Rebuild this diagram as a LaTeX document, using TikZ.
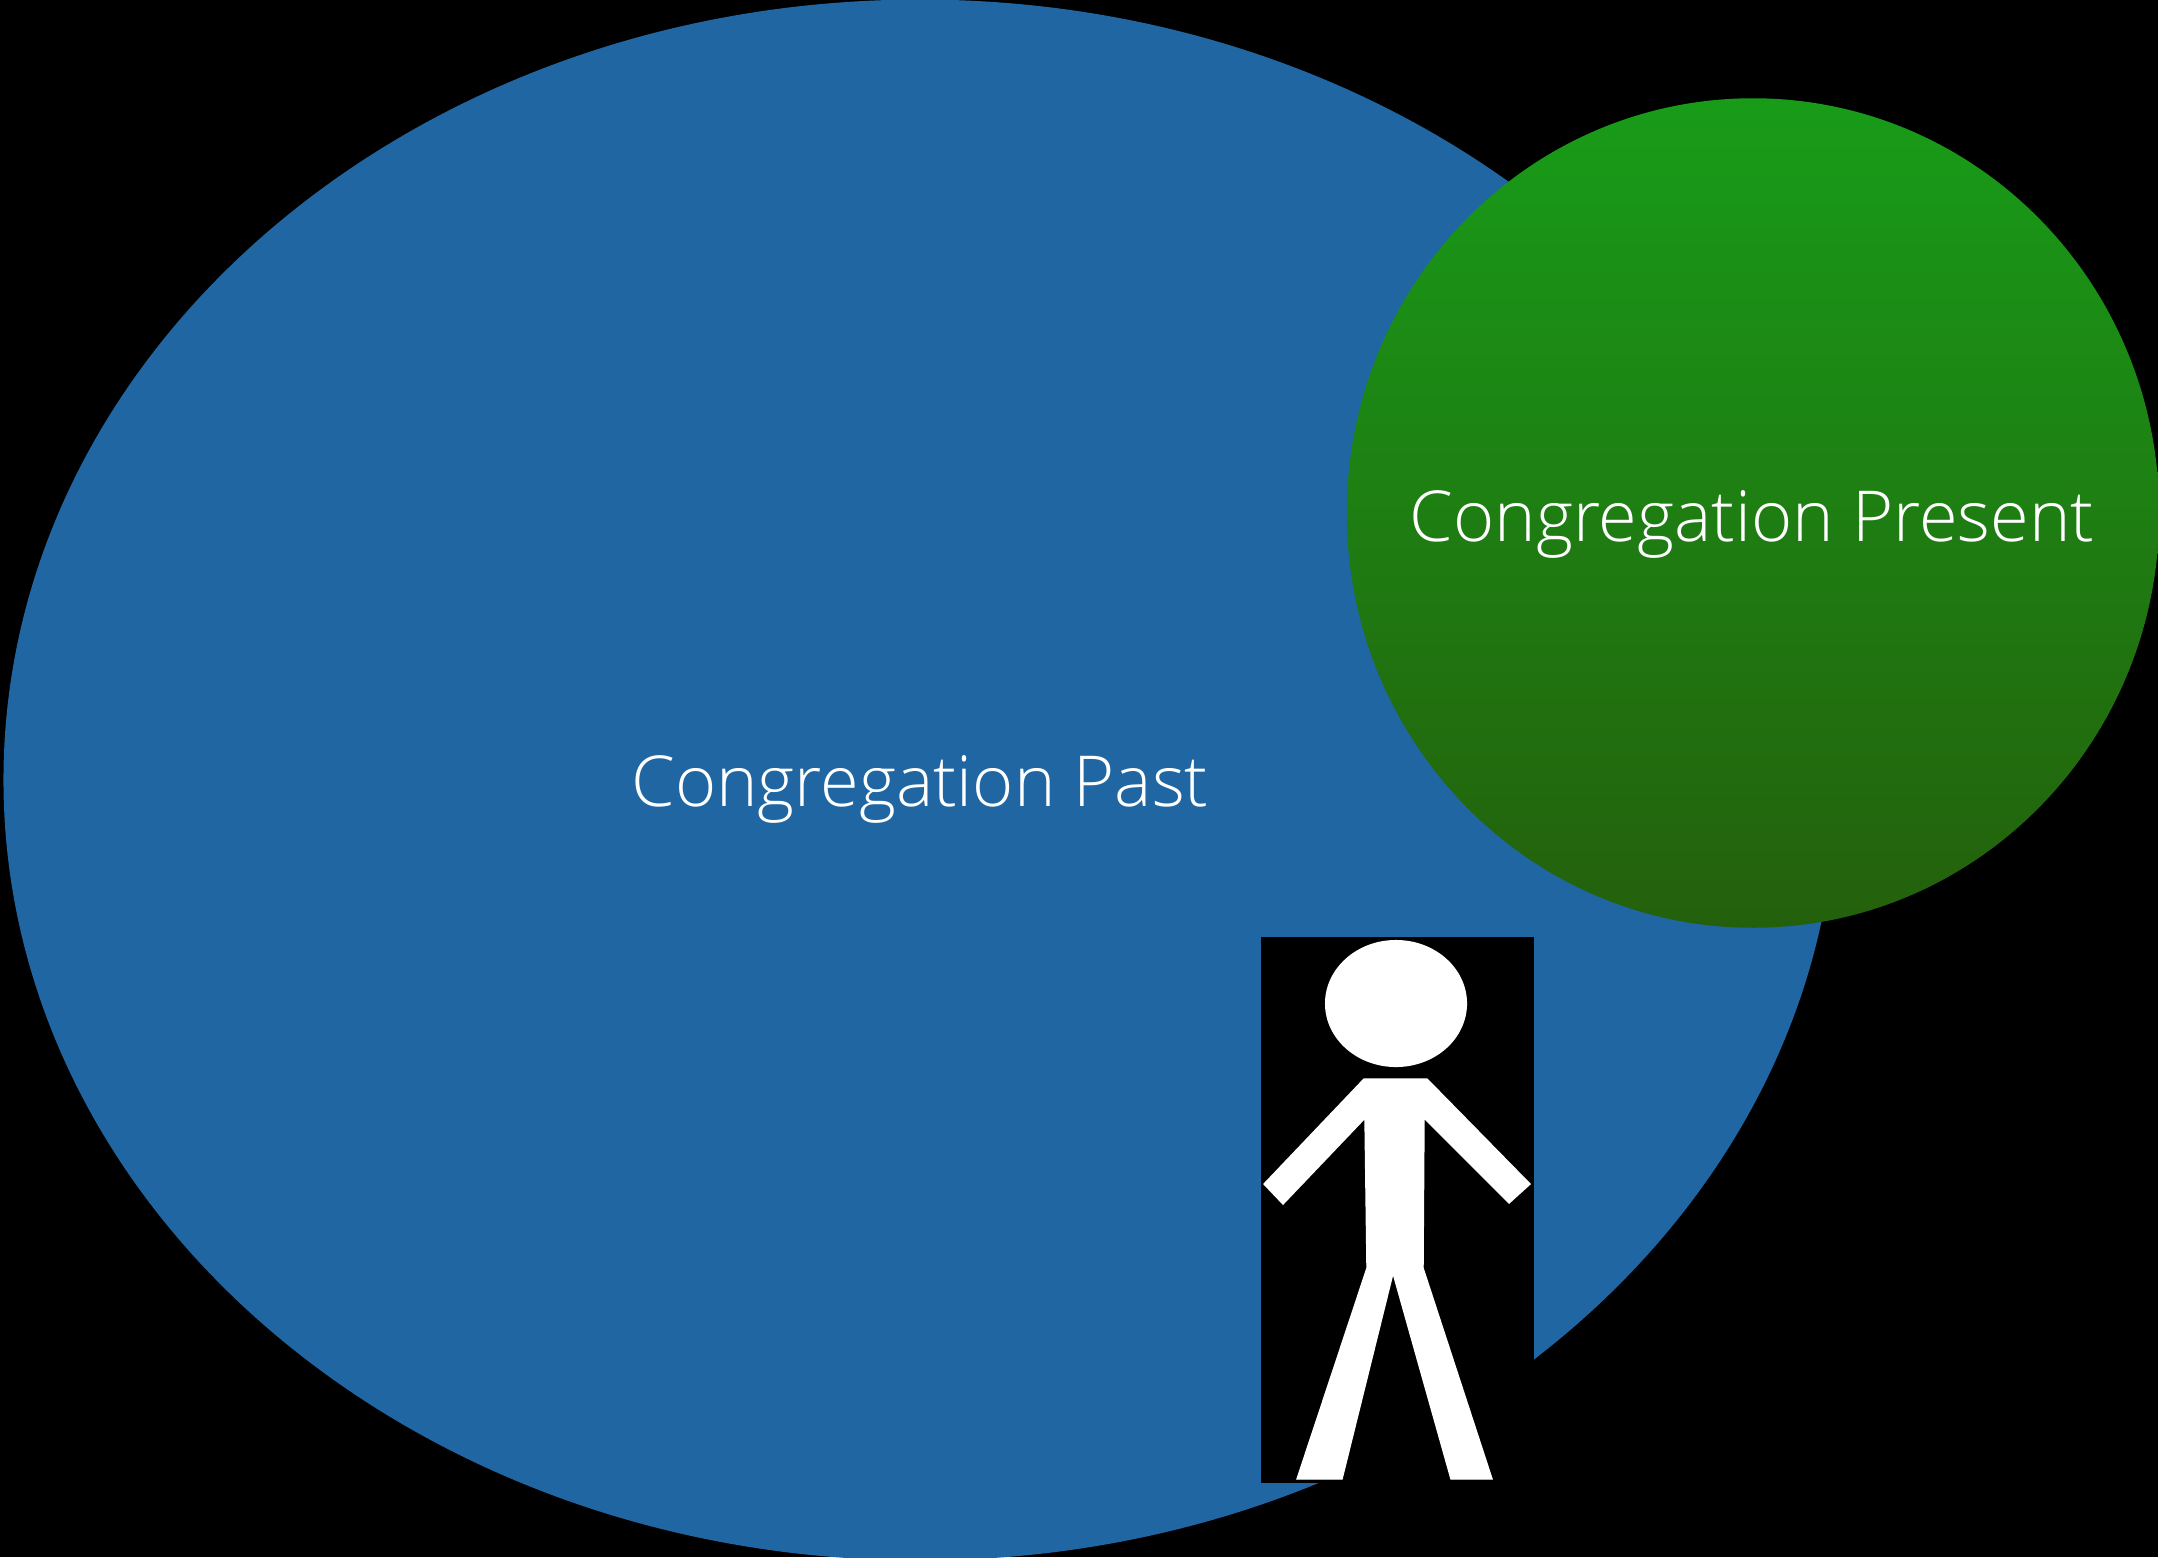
\documentclass[tikz,border=0pt]{standalone}
\usepackage{fontspec}
\setmainfont[Ligatures=NoCommon]{Open Sans Light}
\usetikzlibrary{shapes.geometric}
\definecolor{pastblue}{HTML}{1F66A3}
\definecolor{presenttop}{HTML}{189C18}
\definecolor{presentbot}{HTML}{24600C}
\tikzset{
  congtext/.style={text=white, inner sep=0pt, anchor=base, font=\fontsize{20}{24}\selectfont},
  congblob/.style={shape=ellipse, inner sep=0pt, outer sep=0pt}
}
\begin{document}
\begin{tikzpicture}[x=0.01cm, y=-0.01cm]
  % Black page
  \fill[black] (0,0) rectangle (2158,1557);
  \useasboundingbox (0,0) rectangle (2158,1557);

  % The two congregations
  \node[congblob, fill=pastblue, minimum width=18.32cm, minimum height=15.60cm] (past) at (920,780) {};
  \node[congblob, top color=presenttop, bottom color=presentbot, minimum width=8.12cm, minimum height=8.29cm] (present) at (1753,513) {};
  \node[congtext] (pastlabel) at (920,806) {Congregation Past};
  \node[congtext] (presentlabel) at (1752,541) {Congregation Present};

  % Stick figure on its black box
  \node[fill=black, inner sep=0pt, minimum width=2.73cm, minimum height=5.45cm] (figbox) at (1397.5,1210) {};
  \node[shape=ellipse, fill=white, inner sep=0pt, minimum width=1.42cm, minimum height=1.27cm] (head) at (1396,1003.5) {};
  \filldraw[white] (1364,1079) -- (1427,1079) -- (1530,1184) -- (1509,1203) -- (1424,1118) -- (1423,1268)
    -- (1492,1479) -- (1451,1479) -- (1393,1273) -- (1342,1479) -- (1297,1479) -- (1367,1268)
    -- (1365,1118) -- (1283,1204) -- (1264,1184) -- cycle; % Body, arms and legs
\end{tikzpicture}
\end{document}
